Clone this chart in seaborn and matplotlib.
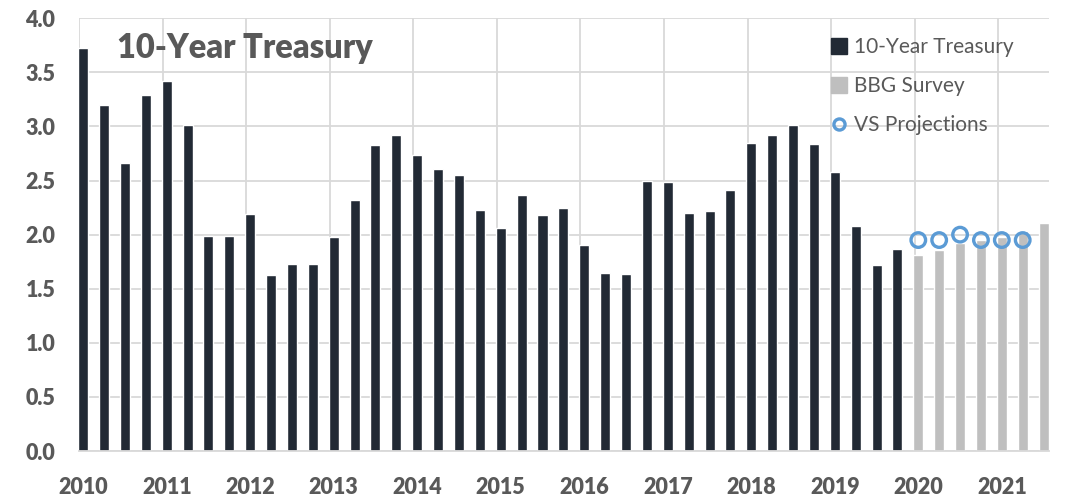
import numpy as np
import pandas as pd
import matplotlib
matplotlib.use("Agg")
import matplotlib.pyplot as plt
import seaborn as sns
from matplotlib.lines import Line2D
from matplotlib.ticker import FixedLocator

# ---------------- data ----------------
year_labels = ["2010", "2011", "2012", "2013", "2014", "2015",
               "2016", "2017", "2018", "2019", "2020", "2021"]
quarters = [f"{y}Q{q}" for y in year_labels for q in (1, 2, 3, 4)][:47]

treasury = [3.73, 3.20, 2.66, 3.29,
            3.42, 3.01, 1.99, 1.99,
            2.19, 1.63, 1.73, 1.73,
            1.98, 2.32, 2.83, 2.92,
            2.74, 2.61, 2.55, 2.23,
            2.06, 2.37, 2.18, 2.25,
            1.90, 1.65, 1.64, 2.50,
            2.49, 2.20, 2.22, 2.41,
            2.85, 2.92, 3.01, 2.84,
            2.58, 2.08, 1.72, 1.87]
bbg_survey = [1.81, 1.86, 1.92, 1.95, 1.98, 2.03, 2.11]
vs_projections = [1.95, 1.95, 2.00, 1.95, 1.95, 1.95]
y_ticks = [0.0, 0.5, 1.0, 1.5, 2.0, 2.5, 3.0, 3.5, 4.0]

series_names = ["10-Year Treasury", "BBG Survey", "VS Projections"]
colors = {"10-Year Treasury": "#222A35", "BBG Survey": "#BFBFBF",
          "VS Projections": "#5B9BD5"}

df = pd.DataFrame({
    "quarter": quarters,
    "value": treasury + bbg_survey,
    "series": [series_names[0]] * len(treasury) + [series_names[1]] * len(bbg_survey),
})
proj_pos = [quarters.index(q) for q in quarters[len(treasury):len(treasury) + len(vs_projections)]]

# ---------------- style ----------------
sns.set_style("white")
plt.rcParams["font.family"] = ["Lato", "DejaVu Sans"]
text_gray = "#595959"
grid_gray = "#D9D9D9"

fig = plt.figure(figsize=(10.83, 4.99), dpi=100)
ax = fig.add_axes([79 / 1083, 1 - 451 / 499, (1049 - 79) / 1083, (451 - 18.3) / 499])

sns.barplot(data=df, x="quarter", y="value", hue="series", order=quarters,
            hue_order=series_names[:2], palette=colors, dodge=False,
            width=0.48, saturation=1, legend=False, ax=ax, zorder=2)

sns.scatterplot(x=proj_pos, y=vs_projections, marker="o", s=110,
                facecolor="none", edgecolor=colors["VS Projections"],
                linewidth=2.4, ax=ax, zorder=4, legend=False)

ax.set_xlim(-0.2, 46.26)
ax.set_ylim(0, 4.0)
ax.set_xlabel("")
ax.set_ylabel("")

# y axis
ax.set_yticks(y_ticks)
ax.set_yticklabels([f"{v:.1f}" for v in y_ticks], fontsize=15.5,
                   fontweight="heavy", color=text_gray)
ax.tick_params(axis="y", length=0, pad=17)

# x axis: labels at first quarter of each year, ticks/grid at year boundaries
year_pos = list(range(0, 47, 4))
ax.set_xticks(year_pos)
ax.set_xticklabels(year_labels, fontsize=15.5, fontweight="heavy", color=text_gray)
ax.tick_params(axis="x", which="major", length=0, pad=19)
ax.xaxis.set_minor_locator(FixedLocator([p - 0.18 for p in year_pos]))
ax.tick_params(axis="x", which="minor", length=6, width=1.2, color=grid_gray,
               direction="out")

ax.grid(False)
ax.yaxis.grid(True, color=grid_gray, linewidth=1.3)
ax.xaxis.grid(True, which="minor", color=grid_gray, linewidth=1.3)
ax.set_axisbelow(True)

for side in ("top", "right", "left"):
    ax.spines[side].set_visible(False)
ax.spines["bottom"].set_color(grid_gray)
ax.spines["bottom"].set_linewidth(1.3)

# title inside plot
fig.text(117 / 1083, 1 - 48 / 499, "10-Year Treasury", fontsize=23.5,
         fontweight="heavy", color=text_gray, va="center", ha="left")

# legend
handles = [
    Line2D([], [], marker="s", ls="", markersize=11, mfc=colors[series_names[0]],
           mec=colors[series_names[0]]),
    Line2D([], [], marker="s", ls="", markersize=11, mfc=colors[series_names[1]],
           mec=colors[series_names[1]]),
    Line2D([], [], marker="o", ls="", markersize=8, mfc="none",
           mec=colors[series_names[2]], mew=2.4),
]
leg = ax.legend(handles, series_names, loc="upper left",
                bbox_to_anchor=(820 / 1083, 1 - 27 / 499),
                bbox_transform=fig.transFigure, frameon=False, fontsize=15,
                labelspacing=0.9, handlelength=0.85, handletextpad=0.3,
                borderpad=0, labelcolor=text_gray)

fig.savefig("out.png", dpi=100)
